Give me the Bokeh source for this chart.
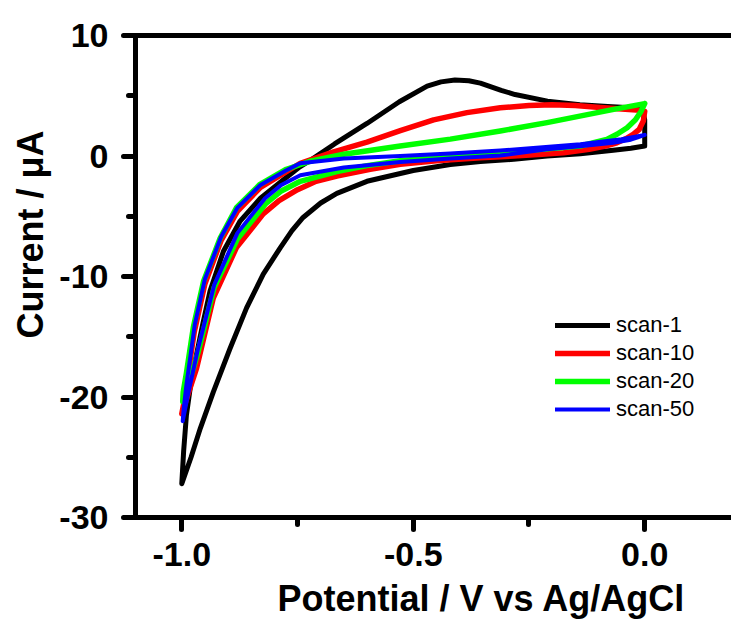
from bokeh.plotting import figure
from bokeh.models import (Range1d, FixedTicker, LinearAxis, Legend,
                          LegendItem, PrintfTickFormatter, Title)
from bokeh.embed import file_html
from bokeh.resources import INLINE

# ---------------- data ----------------
scan1_v = [0.0, -0.03, -0.068, -0.139, -0.211, -0.283, -0.355, -0.42, -0.5, -0.6, -0.665,
           -0.7, -0.738, -0.762, -0.787, -0.824, -0.86, -0.896, -0.932, -0.96, -0.98, -1.0,
           -0.996, -0.99, -0.982, -0.97, -0.955, -0.939, -0.91, -0.874, -0.83, -0.775,
           -0.745, -0.72, -0.67, -0.6, -0.53, -0.47, -0.44, -0.41, -0.38, -0.355, -0.31,
           -0.28, -0.21, -0.14, -0.08, -0.03, -0.005, 0.0, 0.0]
scan1_i = [0.83, 0.65, 0.47, 0.19, 0.0, -0.27, -0.45, -0.7, -1.2, -2.1, -3.1,
           -3.9, -5.1, -6.2, -7.6, -9.8, -12.6, -16.0, -19.6, -22.6, -25.0, -27.2,
           -24.5, -21.5, -19.3, -16.8, -14.0, -11.2, -7.9, -5.4, -3.5, -1.8,
           -0.9, -0.3, 1.0, 2.7, 4.5, 5.8, 6.15, 6.3, 6.25, 6.05, 5.45,
           5.1, 4.55, 4.25, 4.1, 4.0, 3.9, 3.0, 0.83]

scan10_v = [0.0, -0.003, -0.012, -0.025, -0.04, -0.06, -0.085, -0.12, -0.175, -0.23, -0.283,
            -0.355, -0.45, -0.528, -0.593, -0.665, -0.71, -0.75, -0.79, -0.824, -0.882, -0.932,
            -0.968, -0.985, -1.0,
            -0.994, -0.988, -0.973, -0.95, -0.915, -0.88, -0.83, -0.774, -0.744, -0.672,
            -0.6, -0.528, -0.456, -0.384, -0.312, -0.25, -0.2, -0.15, -0.103, -0.05, -0.01, 0.0]
scan10_i = [3.7, 2.9, 2.2, 1.8, 1.45, 1.1, 0.82, 0.55, 0.27, 0.12, 0.0,
            -0.14, -0.4, -0.69, -1.1, -1.66, -2.1, -2.8, -3.7, -4.8, -7.6, -11.8,
            -17.6, -19.6, -21.4,
            -20.2, -18.5, -14.6, -10.6, -7.0, -4.6, -2.6, -1.3, -0.6, 0.35,
            1.15, 2.1, 3.0, 3.6, 4.0, 4.2, 4.25, 4.2, 4.05, 3.9, 3.8, 3.7]

scan20_v = [0.0, -0.008, -0.02, -0.038, -0.06, -0.082, -0.139, -0.247, -0.355, -0.45,
            -0.528, -0.6, -0.665, -0.744, -0.785, -0.82, -0.88, -0.93, -0.965, -0.985, -0.998,
            -0.997, -0.99, -0.975, -0.953, -0.917, -0.882, -0.831, -0.774, -0.72, -0.65,
            -0.528, -0.42, -0.312, -0.211, -0.067, 0.0]
scan20_i = [4.35, 3.7, 3.0, 2.35, 1.8, 1.38, 0.83, 0.47, 0.22, -0.1,
            -0.4, -0.8, -1.3, -2.1, -2.9, -4.0, -6.9, -10.9, -16.3, -18.9, -20.4,
            -19.6, -18.0, -14.2, -10.4, -6.8, -4.3, -2.35, -1.1, -0.4, 0.15,
            0.83, 1.4, 2.07, 2.77, 3.87, 4.35]

scan50_v = [0.0, -0.015, -0.03, -0.068, -0.14, -0.211, -0.312, -0.42, -0.528, -0.65,
            -0.744, -0.785, -0.82, -0.88, -0.93, -0.965, -0.985, -0.998,
            -0.996, -0.99, -0.972, -0.95, -0.915, -0.88, -0.83, -0.775, -0.744, -0.65,
            -0.528, -0.42, -0.312, -0.139, -0.05, 0.0]
scan50_i = [1.75, 1.55, 1.35, 1.1, 0.8, 0.55, 0.05, -0.2, -0.5, -0.95,
            -1.6, -2.4, -3.5, -6.4, -10.7, -16.0, -19.5, -22.0,
            -21.0, -19.0, -14.0, -10.2, -6.7, -4.3, -2.4, -1.2, -0.6, -0.2,
            0.0, 0.2, 0.45, 0.97, 1.4, 1.75]

series_names = ["scan-1", "scan-10", "scan-20", "scan-50"]
series_colors = ["#000000", "#FF0000", "#00FF00", "#0000FF"]

x_ticks = [-1.0, -0.5, 0.0]
x_minor = [-0.75, -0.25]
y_ticks = [-30, -20, -10, 0, 10]
y_minor = [-25, -15, -5, 5]

x_title = "Potential / V vs Ag/AgCl"
y_title = "Current / \u03bcA"

# ---------------- figure ----------------
p = figure(width=731, height=631, x_range=Range1d(-1.1, 0.1875),
           y_range=Range1d(-30, 10), output_backend="svg",
           toolbar_location=None, min_border_left=135, min_border_right=0,
           min_border_top=35, min_border_bottom=114)
p.outline_line_color = None
p.xgrid.visible = False
p.ygrid.visible = False
p.background_fill_color = "white"
p.border_fill_color = "white"

for ax, ticks, minor, fmt in ((p.xaxis[0], x_ticks, x_minor, "%.1f"),
                              (p.yaxis[0], y_ticks, y_minor, "%d")):
    ax.ticker = FixedTicker(ticks=ticks, minor_ticks=minor)
    ax.formatter = PrintfTickFormatter(format=fmt)
    ax.axis_line_width = 5
    ax.axis_line_color = "black"
    ax.major_tick_line_width = 5
    ax.minor_tick_line_width = 5
    ax.major_tick_in = 0
    ax.major_tick_out = 12
    ax.minor_tick_in = 0
    ax.minor_tick_out = 7
    ax.major_tick_line_cap = "round"
    ax.minor_tick_line_cap = "round"
    ax.major_label_text_font = "Liberation Sans"
    ax.major_label_text_font_style = "bold"
    ax.major_label_text_font_size = "34px"
    ax.major_label_text_color = "black"
p.yaxis[0].major_label_standoff = 15
p.xaxis[0].major_label_standoff = 13

top = LinearAxis(ticker=FixedTicker(ticks=[]), axis_line_width=5,
                 axis_line_color="black", major_tick_line_color=None,
                 minor_tick_line_color=None, major_label_text_font_size="0px")
p.add_layout(top, "above")

renderers = []
data = [(scan1_v, scan1_i, 5), (scan10_v, scan10_i, 5.5),
        (scan20_v, scan20_i, 5.5), (scan50_v, scan50_i, 4)]
for (vv, ii, lw), col in zip(data, series_colors):
    r = p.line(vv, ii, line_color=col, line_width=lw, line_join="round",
               line_cap="round")
    renderers.append(r)

legend = Legend(items=[LegendItem(label=n, renderers=[r])
                       for n, r in zip(series_names, renderers)],
                location=(420, 95), glyph_width=55, glyph_height=20,
                label_text_font="Liberation Sans", label_text_font_size="22px",
                label_text_color="black",
                label_standoff=6, spacing=2, padding=10, margin=0,
                border_line_color=None, background_fill_alpha=0)
p.add_layout(legend)

xt = Title(text=x_title, align="left", offset=142, vertical_align="bottom",
           standoff=14, text_font="Liberation Sans", text_font_style="bold",
           text_font_size="36px", text_color="black")
p.add_layout(xt, "below")
yt = Title(text=y_title, align="left", offset=179, vertical_align="bottom",
           standoff=12, text_font="Liberation Sans", text_font_style="bold",
           text_font_size="36px", text_color="black")
p.add_layout(yt, "left")

open("out.html", "w").write(file_html(p, INLINE))
